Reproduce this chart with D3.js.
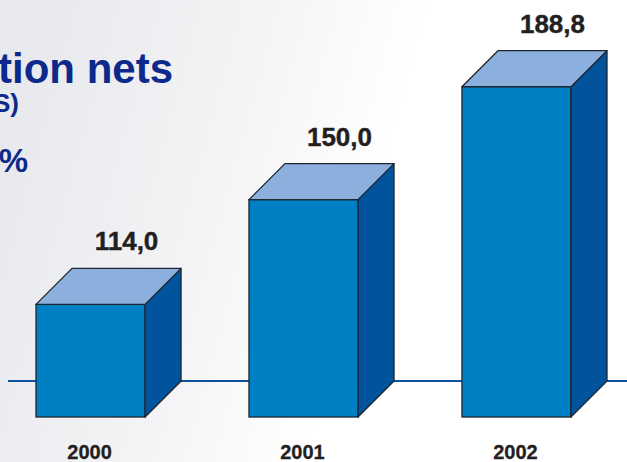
<!DOCTYPE html>
<html>
<head>
<meta charset="utf-8">
<script src="https://cdn.jsdelivr.net/npm/d3@7"></script>
<style>
  html, body { margin: 0; padding: 0; background: #fff; }
  svg { display: block; }
</style>
</head>
<body>
<svg id="chart" width="627" height="462"></svg>
<script>
const categories = ["2000", "2001", "2002"];
const values = [114.0, 150.0, 188.8];
const valueLabels = ["114,0", "150,0", "188,8"];
const titleLines = ["tion nets", "S)", "%"];

const W = 627, H = 462;
const depth = 36;
const svg = d3.select("#chart");

// background gradient
const defs = svg.append("defs");
const grad = defs.append("linearGradient").attr("id", "bg")
  .attr("x1", "0").attr("y1", "0.3").attr("x2", "1").attr("y2", "0.5");
grad.append("stop").attr("offset", "0").attr("stop-color", "#e8e9ed");
grad.append("stop").attr("offset", "0.35").attr("stop-color", "#f4f4f6");
grad.append("stop").attr("offset", "0.6").attr("stop-color", "#ffffff");
grad.append("stop").attr("offset", "1").attr("stop-color", "#ffffff");
svg.append("rect").attr("width", W).attr("height", H).attr("fill", "url(#bg)");

const x = d3.scaleBand().domain(categories).range([36, 571])
  .paddingInner(0.488).paddingOuter(0).align(0);
const y = d3.scaleLinear().domain([75.3, 188.8]).range([417, 86.7]);
const y0 = y.range()[0];

// baseline (back plane)
svg.append("line")
  .attr("x1", 8).attr("x2", W)
  .attr("y1", y0 - depth).attr("y2", y0 - depth)
  .attr("stroke", "#0b52a0").attr("stroke-width", 2.2);

const data = categories.map((c, i) => ({ c, v: values[i], label: valueLabels[i] }));
const bw = x.bandwidth();
const stroke = "#1e2630";

const g = svg.selectAll("g.bar").data(data).join("g").attr("class", "bar");

// front
g.append("rect")
  .attr("x", d => x(d.c)).attr("y", d => y(d.v))
  .attr("width", bw).attr("height", d => y0 - y(d.v))
  .attr("fill", "#0080c4").attr("stroke", stroke).attr("stroke-width", 1.3);

// side
g.append("path")
  .attr("d", d => {
    const xr = x(d.c) + bw, yt = y(d.v);
    return `M${xr},${yt}L${xr + depth},${yt - depth}L${xr + depth},${y0 - depth}L${xr},${y0}Z`;
  })
  .attr("fill", "#00539c").attr("stroke", stroke).attr("stroke-width", 1.3)
  .attr("stroke-linejoin", "round");

// top
g.append("path")
  .attr("d", d => {
    const xl = x(d.c), xr = xl + bw, yt = y(d.v);
    return `M${xl},${yt}L${xl + depth},${yt - depth}L${xr + depth},${yt - depth}L${xr},${yt}Z`;
  })
  .attr("fill", "#8bb0de").attr("stroke", stroke).attr("stroke-width", 1.3)
  .attr("stroke-linejoin", "round");

// value labels
g.append("text")
  .attr("x", d => x(d.c) + bw / 2 + depth)
  .attr("y", d => y(d.v) - depth - 18)
  .attr("text-anchor", "middle")
  .attr("font-family", "Liberation Sans, Arial, sans-serif")
  .attr("font-weight", "bold").attr("font-size", 26)
  .attr("fill", "#231f20").attr("stroke", "#231f20").attr("stroke-width", 0.4)
  .text(d => d.label);

// category labels
g.append("text")
  .attr("x", d => x(d.c) + bw / 2 - 1)
  .attr("y", 459)
  .attr("text-anchor", "middle")
  .attr("font-family", "Liberation Sans, Arial, sans-serif")
  .attr("font-weight", "bold").attr("font-size", 20)
  .attr("fill", "#231f20").attr("stroke", "#231f20").attr("stroke-width", 0.3)
  .text(d => d.c);

// title fragments (cut off at left edge, as in the reference)
const titleColor = "#0b2a8c";
svg.append("text").attr("x", 173).attr("y", 83).attr("text-anchor", "end")
  .attr("font-family", "Liberation Sans, Arial, sans-serif")
  .attr("font-weight", "bold").attr("font-size", 42).attr("fill", titleColor)
  .text(titleLines[0]);
svg.append("text").attr("x", 19).attr("y", 112).attr("text-anchor", "end")
  .attr("font-family", "Liberation Sans, Arial, sans-serif")
  .attr("font-weight", "bold").attr("font-size", 26).attr("fill", titleColor)
  .text(titleLines[1]);
svg.append("text").attr("x", 28).attr("y", 172).attr("text-anchor", "end")
  .attr("font-family", "Liberation Sans, Arial, sans-serif")
  .attr("font-weight", "bold").attr("font-size", 33).attr("fill", titleColor)
  .text(titleLines[2]);
</script>
</body>
</html>
